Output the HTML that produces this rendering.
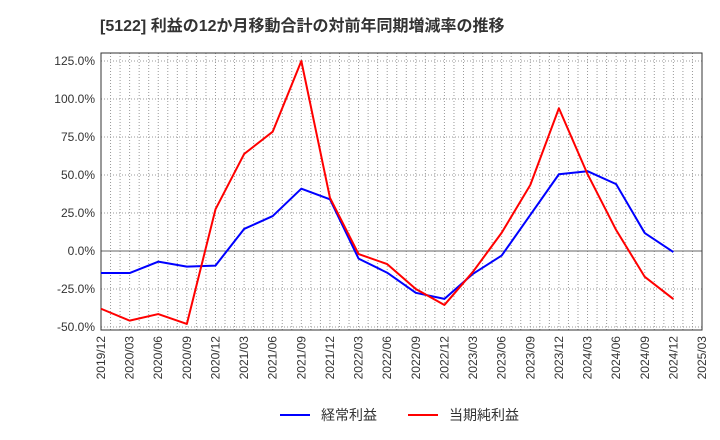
<!DOCTYPE html>
<html><head><meta charset="utf-8"><style>
body{margin:0;background:#fff;}
svg{display:block;font-family:"Liberation Sans","Noto Sans CJK JP",sans-serif;}
</style></head><body>
<svg id="chart" width="720" height="440" viewBox="0 0 720 440">
<text x="100" y="31" font-size="16" font-weight="bold" fill="#333">[5122]  利益の12か月移動合計の対前年同期増減率の推移</text>
<g id="grid"></g>
<g id="axes"></g>
<g id="series"></g>
<g>
<g>
<line x1="280" y1="415" x2="310" y2="415" stroke="#0000ff" stroke-width="2"/>
<text x="321" y="420" font-size="14" fill="#333">経常利益</text></g>
<g>
<line x1="408" y1="415" x2="438" y2="415" stroke="#ff0000" stroke-width="2"/>
<text x="449" y="420" font-size="14" fill="#333">当期純利益</text></g>
</g>
</svg>
<script>
const categories=["2019/12","2020/03","2020/06","2020/09","2020/12","2021/03","2021/06","2021/09","2021/12","2022/03","2022/06","2022/09","2022/12","2023/03","2023/06","2023/09","2023/12","2024/03","2024/06","2024/09","2024/12","2025/03"];
const ordinaryProfit=[-14.5,-14.5,-7,-10.3,-9.6,14.5,23,41,34,-5,-14.3,-27.5,-31.5,-15,-3,23.7,50.5,52.5,44,11.8,-0.7];
const netIncome=[-38,-45.8,-41.5,-48,27.4,63.8,78.5,125,35,-2,-8.6,-25,-35.5,-13.6,12,43.4,93.9,50.6,13.8,-17,-31.6];
const yTicks=[125,100,75,50,25,0,-25,-50];
const L=101,R=702,T=53,B=330;
const NS="http://www.w3.org/2000/svg";
function xq(i){return L+i*(R-L)/21;}
function y(v){return 251-v*38/25;}
function mk(tag,attrs,parent){const e=document.createElementNS(NS,tag);for(const k in attrs)e.setAttribute(k,attrs[k]);parent.appendChild(e);return e;}
const grid=document.getElementById('grid'),axes=document.getElementById('axes'),series=document.getElementById('series');
for(let m=1;m<63;m++){const x=L+m*(R-L)/63;
const g=mk('line',{x1:x,y1:T,x2:x,y2:B,stroke:'#999','stroke-dasharray':'1,2','stroke-width':1},grid);

}
yTicks.forEach(v=>{const yy=y(v);
const g=mk('line',{x1:L,y1:yy,x2:R,y2:yy,stroke:v===0?'#666':'#999','stroke-dasharray':v===0?'':'1,2','stroke-width':1},grid);


const t=mk('text',{x:L-6,y:yy+4,'text-anchor':'end','font-size':'12',fill:'#333'},axes);
t.textContent=v.toFixed(1)+'%';

});
const fr=mk('rect',{x:L,y:T,width:R-L,height:B-T,fill:'none',stroke:'#333','stroke-width':1},axes);


categories.forEach((c,i)=>{const x=xq(i);
const t=mk('text',{x:0,y:0,'text-anchor':'end','font-size':'12',fill:'#333',transform:`translate(${x+4},${B+6}) rotate(-90)`},axes);
t.textContent=c;

});
function line(data,color,name){const p=mk('polyline',{points:data.map((v,i)=>xq(i)+','+y(v)).join(' '),fill:'none',stroke:color,'stroke-width':2,'stroke-linejoin':'round'},series);

}
line(ordinaryProfit,'#0000ff','ordinary-profit-line');
line(netIncome,'#ff0000','net-income-line');
</script>
</body></html>
